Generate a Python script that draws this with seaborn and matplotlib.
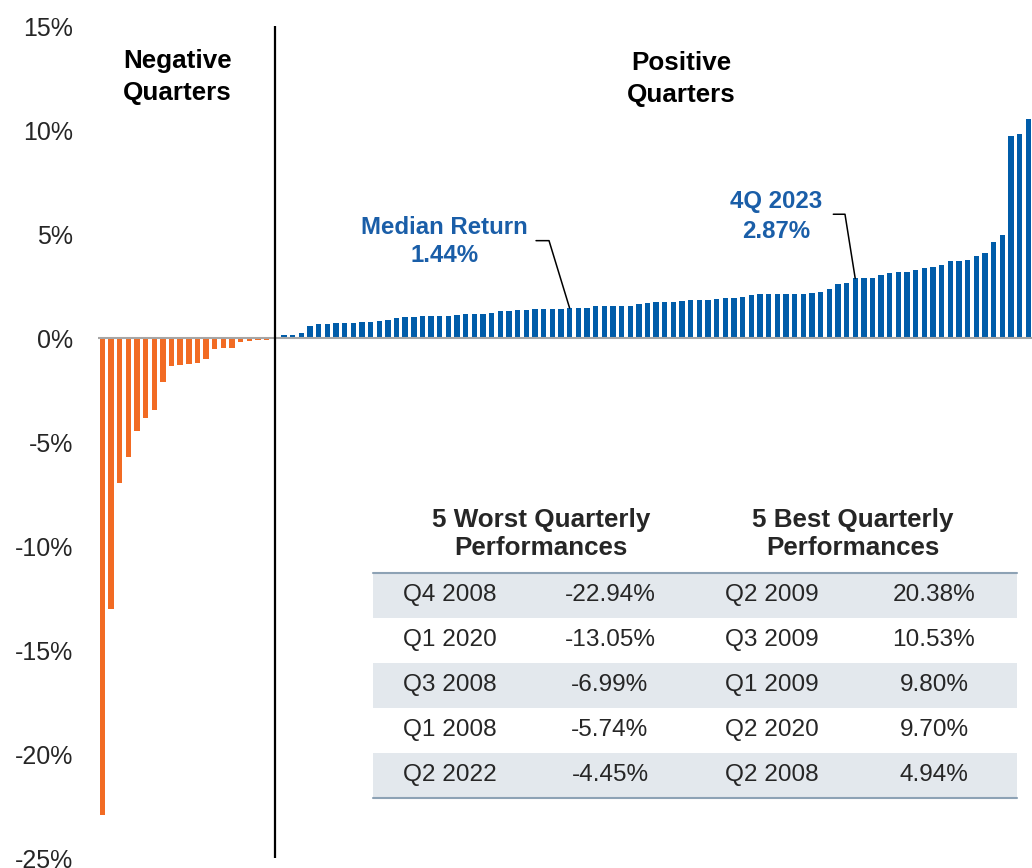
import numpy as np
import pandas as pd
import seaborn as sns
import matplotlib.pyplot as plt
from matplotlib.patches import Rectangle

# ---------------------------------------------------------------------------
# Data: quarterly returns in %, sorted ascending
# ---------------------------------------------------------------------------

neg_returns = [-22.94, -13.05, -6.99, -5.74, -4.45, -3.86, -3.45, -2.10, -1.36, -1.28,
               -1.23, -1.19, -1.03, -0.51, -0.48, -0.47, -0.19, -0.15, -0.12, -0.10]

pos_returns = [0.14, 0.16, 0.22, 0.59, 0.66, 0.66, 0.71, 0.71, 0.72, 0.75,
               0.75, 0.82, 0.88, 0.95, 0.99, 0.99, 1.04, 1.07, 1.07, 1.07,
               1.12, 1.15, 1.15, 1.17, 1.19, 1.31, 1.31, 1.33, 1.35, 1.38,
               1.39, 1.39, 1.39, 1.44, 1.44, 1.44, 1.52, 1.52, 1.54, 1.54,
               1.54, 1.65, 1.68, 1.71, 1.71, 1.73, 1.76, 1.83, 1.83, 1.84,
               1.86, 1.91, 1.91, 1.96, 2.05, 2.11, 2.12, 2.12, 2.13, 2.13,
               2.13, 2.15, 2.21, 2.37, 2.58, 2.63, 2.87, 2.88, 2.88, 3.04,
               3.11, 3.16, 3.19, 3.27, 3.38, 3.41, 3.49, 3.72, 3.72, 3.75,
               3.96, 4.09, 4.60, 4.94, 9.70, 9.80, 10.53, 20.38]

latest_return = 2.87
latest_label = "4Q 2023"

worst_quarters = ["Q4 2008", "Q1 2020", "Q3 2008", "Q1 2008", "Q2 2022"]
worst_returns = [-22.94, -13.05, -6.99, -5.74, -4.45]
best_quarters = ["Q2 2009", "Q3 2009", "Q1 2009", "Q2 2020", "Q2 2008"]
best_returns = [20.38, 10.53, 9.80, 9.70, 4.94]

y_ticks = [-25, -20, -15, -10, -5, 0, 5, 10, 15]

NEG_COLOR = "#F26B23"
POS_COLOR = "#005CA9"
LABEL_BLUE = "#1A5EA8"
ROW_SHADE = "#E3E8ED"
TABLE_LINE = "#8DA2B5"

W, H = 1032, 868

sns.set_theme(style="white")
plt.rcParams["font.family"] = ["Liberation Sans", "DejaVu Sans"]

# one slot per quarter, with an empty slot for the divider line
n_neg = len(neg_returns)
slots = list(range(n_neg)) + list(range(n_neg + 1, n_neg + 1 + len(pos_returns)))
df = pd.DataFrame({
    "slot": slots,
    "ret": neg_returns + pos_returns,
    "side": ["neg"] * n_neg + ["pos"] * len(pos_returns),
})

fig = plt.figure(figsize=(W / 100, H / 100), dpi=100)
ax = fig.add_axes([98.3 / W, 10 / H, (W - 98.3) / W, 832 / H])

sns.barplot(data=df, x="slot", y="ret", hue="side",
            palette={"neg": NEG_COLOR, "pos": POS_COLOR},
            native_scale=True, dodge=False, width=0.62, saturation=1,
            errorbar=None, legend=False, linewidth=0, ax=ax)

ax.axhline(0, color="#A6A6A6", lw=1.5, zorder=3)
ax.axvline(n_neg, color="black", lw=1.6, zorder=3)

ax.set_xlim(-0.46, 107.43)
ax.set_ylim(-25, 15)
ax.set_yticks(y_ticks)
ax.set_yticklabels([f"{v}%" for v in y_ticks], fontsize=18)
ax.set_xticks([])
ax.set_xlabel("")
ax.set_ylabel("")
ax.tick_params(axis="y", length=0, pad=18)
for s in ax.spines.values():
    s.set_visible(False)

# section headings
ax.text(8.7, 12.55, "Negative\nQuarters", ha="center", va="center",
        fontsize=18.7, fontweight="bold", color="black", linespacing=1.4)
ax.text(66.9, 12.45, "Positive\nQuarters", ha="center", va="center",
        fontsize=18.7, fontweight="bold", color="black", linespacing=1.4)

# median callout
median = float(np.median(neg_returns + pos_returns))
med_slot = n_neg + 1 + pos_returns.index(median)
ax.text(39.5, 4.64, f"Median Return\n{median:.2f}%", ha="center", va="center",
        fontsize=17.3, fontweight="bold", color=LABEL_BLUE, linespacing=1.3)
ax.plot([50.12, 51.62, med_slot], [4.68, 4.68, median], color="black", lw=1.1)

# latest quarter callout
last_slot = n_neg + 1 + pos_returns.index(latest_return)
ax.text(77.9, 5.83, f"{latest_label}\n{latest_return:.2f}%", ha="center", va="center",
        fontsize=17.3, fontweight="bold", color=LABEL_BLUE, linespacing=1.4)
ax.plot([84.47, 85.82, last_slot], [5.95, 5.95, latest_return], color="black", lw=1.1)

# ---------------------------------------------------------------------------
# Table of worst / best quarters (drawn in pixel coords on an overlay)
# ---------------------------------------------------------------------------

tab = fig.add_axes([0, 0, 1, 1])
tab.set_xlim(0, W)
tab.set_ylim(H, 0)
tab.axis("off")

x0, x1 = 373, 1017
row_top, row_h = 572.5, 45
col_x = [450, 610, 772, 934]

tab.text(541, 534, "5 Worst Quarterly\nPerformances", ha="center", va="center",
         fontsize=18.7, fontweight="bold", linespacing=1.25)
tab.text(853, 534, "5 Best Quarterly\nPerformances", ha="center", va="center",
         fontsize=18.7, fontweight="bold", linespacing=1.25)

for i in range(len(worst_quarters)):
    top = row_top + i * row_h
    if i % 2 == 0:
        tab.add_patch(Rectangle((x0, top), x1 - x0, row_h, color=ROW_SHADE, lw=0))
    yc = top + row_h / 2
    cells = [worst_quarters[i], f"{worst_returns[i]:.2f}%",
             best_quarters[i], f"{best_returns[i]:.2f}%"]
    for cx, txt in zip(col_x, cells):
        tab.text(cx, yc, txt, ha="center", va="center", fontsize=17.6)

tab.plot([x0, x1], [row_top, row_top], color=TABLE_LINE, lw=1.5)
bottom = row_top + len(worst_quarters) * row_h
tab.plot([x0, x1], [bottom, bottom], color=TABLE_LINE, lw=1.5)

fig.savefig("out.png", dpi=100)
